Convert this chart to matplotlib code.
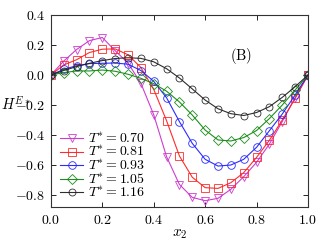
import matplotlib
matplotlib.use("Agg")
import matplotlib.pyplot as plt

x2 = [0.00, 0.05, 0.10, 0.15, 0.20, 0.25, 0.30, 0.35, 0.40, 0.45, 0.50,
      0.55, 0.60, 0.65, 0.70, 0.75, 0.80, 0.85, 0.90, 0.95, 1.00]

h_070 = [0.0, 0.093, 0.170, 0.229, 0.250, 0.162, 0.080, -0.055, -0.265, -0.545, -0.730,
         -0.816, -0.838, -0.822, -0.762, -0.678, -0.582, -0.460, -0.310, -0.150, 0.0]
h_081 = [0.0, 0.067, 0.102, 0.150, 0.172, 0.174, 0.135, 0.050, -0.096, -0.305, -0.540,
         -0.682, -0.751, -0.756, -0.718, -0.651, -0.549, -0.435, -0.300, -0.156, 0.0]
h_093 = [0.0, 0.038, 0.062, 0.076, 0.078, 0.080, 0.072, 0.030, -0.042, -0.152, -0.311,
         -0.456, -0.562, -0.607, -0.600, -0.562, -0.482, -0.371, -0.260, -0.133, 0.0]
h_105 = [0.0, 0.016, 0.027, 0.027, 0.033, 0.025, 0.005, -0.022, -0.058, -0.108, -0.180,
         -0.267, -0.367, -0.433, -0.440, -0.417, -0.370, -0.290, -0.200, -0.100, 0.0]
h_116 = [0.0, 0.030, 0.056, 0.078, 0.096, 0.110, 0.115, 0.111, 0.088, 0.042, -0.020,
         -0.093, -0.167, -0.225, -0.258, -0.270, -0.250, -0.211, -0.149, -0.078, 0.0]

labels = [r"$T^{*}=0.70$", r"$T^{*}=0.81$", r"$T^{*}=0.93$", r"$T^{*}=1.05$", r"$T^{*}=1.16$"]
series = [h_070, h_081, h_093, h_105, h_116]
colors = ["#cc33cc", "#ff2020", "#2020ff", "#118811", "#222222"]
markers = ["v", "s", "o", "D", "o"]
msizes = [5.5, 5.5, 5.5, 5, 5]

plt.rcParams["font.family"] = "serif"
plt.rcParams["font.serif"] = ["DejaVu Serif"]
plt.rcParams["mathtext.fontset"] = "cm"
plt.rcParams["axes.unicode_minus"] = True

fig = plt.figure(figsize=(3.2, 2.4), dpi=100)
ax = fig.add_axes([0.159, 0.1375, 0.8035, 0.80])

for y, lab, c, m, ms in zip(series, labels, colors, markers, msizes):
    ax.plot(x2, y, color=c, marker=m, markersize=ms, markerfacecolor="none",
            markeredgecolor=c, markeredgewidth=0.6, linewidth=0.8, label=lab,
            alpha=0.95)

ax.set_xlim(0, 1)
ax.set_ylim(-0.88, 0.4)
ax.set_xticks([0.0, 0.2, 0.4, 0.6, 0.8, 1.0])
ax.set_yticks([0.4, 0.2, 0.0, -0.2, -0.4, -0.6, -0.8])
ax.set_xticklabels([r"$%.1f$" % v for v in [0.0, 0.2, 0.4, 0.6, 0.8, 1.0]])
ax.set_yticklabels([r"$%.1f$" % v for v in [0.4, 0.2, 0.0, -0.2, -0.4, -0.6, -0.8]])
ax.tick_params(direction="in", top=True, right=True, labelsize=10, length=3.5,
               width=0.6, pad=4)
for s in ax.spines.values():
    s.set_linewidth(0.8)
    s.set_color("#333333")

ax.set_xlabel(r"$x_2$", fontsize=11, labelpad=0)
ax.set_ylabel(r"$H^{E*}$", fontsize=10.5, rotation=0, ha="center", va="center")
ax.yaxis.set_label_coords(-0.135, 0.54)

ax.text(0.74, 0.13, r"$\mathrm{(B)}$", fontsize=10.5, ha="center", va="center")

ax.legend(loc="lower left", frameon=False, fontsize=10, handlelength=1.6,
          handletextpad=0.4, labelspacing=-0.05, borderaxespad=0.1,
          bbox_to_anchor=(0.01, 0.0))

fig.savefig("out.png", dpi=100)
